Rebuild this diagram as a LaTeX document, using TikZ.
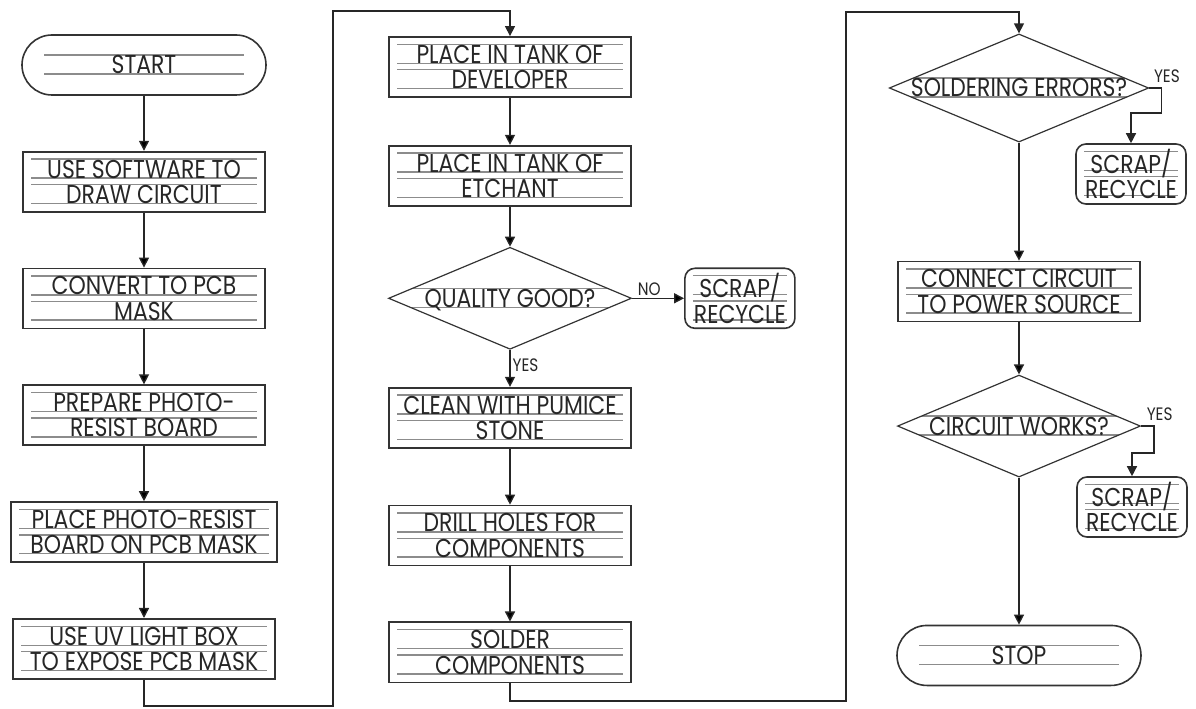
\documentclass[tikz,border=0pt]{standalone}
\usepackage{fontspec}
\setmainfont{Poppins}[FakeStretch=0.85]
\usetikzlibrary{arrows.meta, positioning, shapes.geometric}

% ruled lines behind the text, one pair per text line
\tikzset{
  ruled two/.style={path picture={
    \foreach \r in {11.3, 1.8, -1.4, -10.8}
      \draw [rule] ([xshift=#1, yshift=\r*1pt] path picture bounding box.west)
        -- ([xshift=-#1, yshift=\r*1pt] path picture bounding box.east);
  }},
  ruled one/.style={path picture={
    \foreach \r in {5, -4.5}
      \draw [rule] ([xshift=#1, yshift=\r*1pt] path picture bounding box.west)
        -- ([xshift=-#1, yshift=\r*1pt] path picture bounding box.east);
  }}
}

\begin{document}
\begin{tikzpicture}[x=0.5pt, y=0.5pt,
  >={Triangle[length=5pt, width=5pt]},
  every node/.style={font=\fontsize{12.9}{12.65}\selectfont, text=black!85},
  rule/.style={draw=black!45, line width=0.7pt},
  box/.style={draw=black!80, line width=0.9pt, align=center, inner sep=0pt,
    minimum width=121pt, minimum height=30pt, ruled two=4pt},
  term/.style={draw=black!80, line width=0.8pt, rounded corners=15pt, inner sep=0pt,
    minimum width=122pt, minimum height=30pt, text height=9pt, text depth=0pt,
    ruled one=11pt},
  decision/.style={draw=black!80, line width=0.6pt, diamond, aspect=2.4, inner sep=0pt,
    minimum width=121.5pt, minimum height=51pt, text height=9pt, text depth=0pt,
    ruled one=10pt},
  scrap/.style={draw=black!80, line width=0.8pt, rounded corners=5pt, align=center,
    inner sep=0pt, minimum width=55pt, minimum height=30pt, ruled two=4pt},
  flow/.style={draw=black!85, line width=0.7pt, ->},
  tag/.style={font=\fontsize{9}{9}\selectfont, inner sep=1pt}]

\useasboundingbox (0,0) rectangle (1196,708);

% first column
\node [term] (start) at (144,643) {START};
\node [box, below=27.5pt of start] (software) {USE SOFTWARE TO\\DRAW CIRCUIT};
\node [box, below=27.5pt of software] (mask) {CONVERT TO PCB\\MASK};
\node [box, below=27.5pt of mask] (resist) {PREPARE PHOTO-\\RESIST BOARD};
\node [box, below=27.5pt of resist, minimum width=133pt] (place) {PLACE PHOTO-RESIST\\BOARD ON PCB MASK};
\node [box, below=27.5pt of place, minimum width=131pt] (expose) {USE UV LIGHT BOX\\TO EXPOSE PCB MASK};

% second column
\node [box] (developer) at (510,641) {PLACE IN TANK OF\\DEVELOPER};
\node [box, below=23.5pt of developer] (etchant) {PLACE IN TANK OF\\ETCHANT};
\node [decision, below=20pt of etchant] (quality) {QUALITY GOOD?};
\node [scrap, right=26pt of quality] (scrapa) {SCRAP/\\RECYCLE};
\node [box, below=18.5pt of quality] (pumice) {CLEAN WITH PUMICE\\STONE};
\node [box, below=28pt of pumice] (drill) {DRILL HOLES FOR\\COMPONENTS};
\node [box, below=27.5pt of drill] (solder) {SOLDER\\COMPONENTS};

% third column
\node [decision] (errors) at (1019,620) {SOLDERING ERRORS?};
\node [scrap] (scrapb) at (1131,534) {SCRAP/\\RECYCLE};
\node [box, below=59pt of errors] (power) {CONNECT CIRCUIT\\TO POWER SOURCE};
\node [decision, below=26pt of power] (works) {CIRCUIT WORKS?};
\node [scrap] (scrapc) at (1132,201) {SCRAP/\\RECYCLE};
\node [term, below=73.5pt of works] (stop) {STOP};

% bends of the long runs between columns
\coordinate (low a) at (333,2);
\coordinate (high a) at (333,697);
\coordinate (low b) at (846,7);
\coordinate (high b) at (846,696);

\path [flow] (start)    edge (software);
\path [flow] (software) edge (mask);
\path [flow] (mask)     edge (resist);
\path [flow] (resist)   edge (place);
\path [flow] (place)    edge (expose);
\path [flow] (expose.south) |- (low a) -- (high a) -| (developer.north);

\path [flow] (developer) edge (etchant);
\path [flow] (etchant)   edge (quality);
\path [flow] (quality)   edge node [tag, above, pos=0.33] {NO} (scrapa);
\path [flow] (quality)   edge node [tag, anchor=west, pos=0.42] {YES} (pumice);
\path [flow] (pumice)    edge (drill);
\path [flow] (drill)     edge (solder);
\path [flow] (solder.south) |- (low b) -- (high b) -| (errors.north);

\path [flow] (errors.east) -- ++(12,0) node [tag, anchor=south west, xshift=-5pt, yshift=1.5pt] {YES}
  -- ++(0,-25) -| (scrapb.north);
\path [flow] (errors) edge (power);
\path [flow] (power)  edge (works);
\path [flow] (works.east) -- ++(13,0) node [tag, anchor=south west, xshift=-5pt, yshift=1.5pt] {YES}
  -- ++(0,-27) -| (scrapc.north);
\path [flow] (works)  edge (stop);

\end{tikzpicture}
\end{document}
